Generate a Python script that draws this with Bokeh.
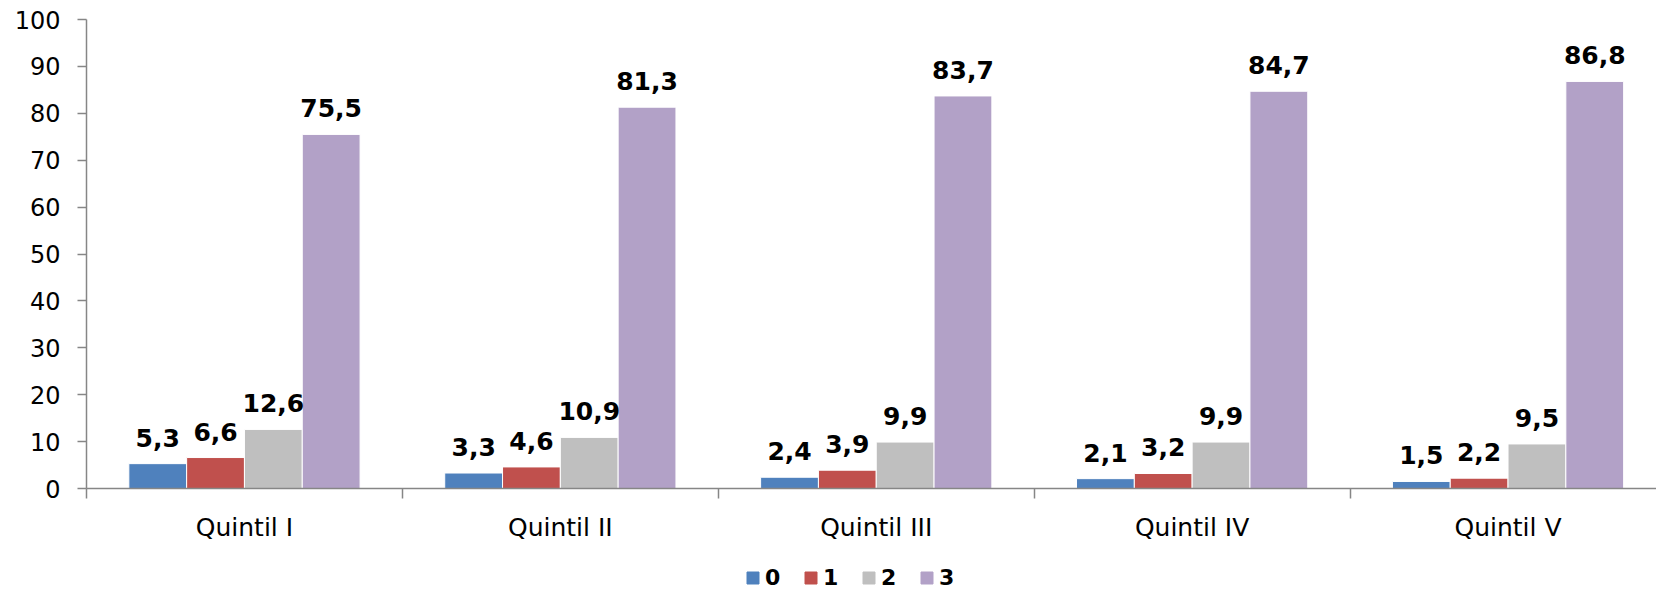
from bokeh.plotting import figure
from bokeh.layouts import column
from bokeh.models import (ColumnDataSource, Range1d, FixedTicker, Legend, LegendItem, LabelSet)
from bokeh.core.properties import value
from bokeh.embed import file_html
from bokeh.resources import INLINE

categories = ["Quintil I", "Quintil II", "Quintil III", "Quintil IV", "Quintil V"]
series_names = ["0", "1", "2", "3"]
s0 = [5.3, 3.3, 2.4, 2.1, 1.5]
s1 = [6.6, 4.6, 3.9, 3.2, 2.2]
s2 = [12.6, 10.9, 9.9, 9.9, 9.5]
s3 = [75.5, 81.3, 83.7, 84.7, 86.8]
series = [s0, s1, s2, s3]
colors = ["#4F81BD", "#C0504D", "#BFBFBF", "#B2A1C7"]
y_ticks = [0, 10, 20, 30, 40, 50, 60, 70, 80, 90, 100]

FONT = "DejaVu Sans"
bar_w = 0.183

p = figure(width=1656, height=558, output_backend="svg", toolbar_location=None,
           x_range=Range1d(0, 4.97), y_range=Range1d(0, 100),
           min_border_left=86, min_border_right=0, min_border_top=19, min_border_bottom=70)
p.outline_line_color = None
p.xgrid.visible = False
p.ygrid.visible = False
p.background_fill_color = "white"
p.border_fill_color = "white"

# small companion figure that only carries the legend (below the chart)
leg = figure(width=1656, height=33, output_backend="svg", toolbar_location=None,
             x_range=Range1d(0, 1), y_range=Range1d(1000, 1001),
             x_axis_location=None, y_axis_location=None,
             min_border_left=0, min_border_right=0, min_border_top=0, min_border_bottom=0)
leg.outline_line_color = None
leg.xgrid.visible = False
leg.ygrid.visible = False

leg_renderers = []
for j, (name, vals, col) in enumerate(zip(series_names, series, colors)):
    xs = [i + 0.5 + (j - 1.5) * bar_w for i in range(len(categories))]
    labels = [f"{v:.1f}".replace(".", ",") for v in vals]
    src = ColumnDataSource(dict(x=xs, top=vals, lab=labels))
    p.vbar(x="x", top="top", bottom=0, width=bar_w, source=src,
           fill_color=col, line_color="white", line_width=1)
    lr = leg.vbar(x="x", top="top", bottom=0, width=bar_w, source=src,
                  fill_color=col, line_color=col, line_width=1)
    leg_renderers.append((name, lr))
    ls = LabelSet(x="x", y="top", text="lab", source=src, text_align="center",
                  text_baseline="alphabetic", y_offset=17,
                  text_font=value(FONT), text_font_style="bold",
                  text_font_size="25px", text_color="black")
    p.add_layout(ls)

# y axis
yax = p.yaxis[0]
yax.ticker = FixedTicker(ticks=y_ticks)
yax.axis_line_color = "#868686"
yax.axis_line_width = 1.5
yax.major_tick_line_color = "#868686"
yax.major_tick_line_width = 1.5
yax.major_tick_out = 9
yax.major_tick_in = 0
yax.minor_tick_line_color = None
yax.major_label_standoff = 17
yax.major_label_text_font = FONT
yax.major_label_text_font_size = "24px"
yax.major_label_text_color = "black"

# x axis
xax = p.xaxis[0]
xax.ticker = FixedTicker(ticks=[i + 0.5 for i in range(len(categories))],
                         minor_ticks=list(range(len(categories) + 1)))
xax.major_label_overrides = {i + 0.5: c for i, c in enumerate(categories)}
xax.axis_line_color = "#868686"
xax.axis_line_width = 1.5
xax.major_tick_line_color = None
xax.major_tick_out = 0
xax.major_tick_in = 0
xax.minor_tick_line_color = "#868686"
xax.minor_tick_line_width = 1.5
xax.minor_tick_out = 10
xax.minor_tick_in = 0
xax.major_label_standoff = 14
xax.major_label_text_font = FONT
xax.major_label_text_font_size = "25px"
xax.major_label_text_color = "black"

items = [LegendItem(label=n, renderers=[r]) for n, r in leg_renderers]
legend = Legend(items=items, orientation="horizontal", location=(659, 1),
                glyph_width=15, glyph_height=15, label_standoff=5, spacing=18,
                padding=0, margin=0, border_line_color=None,
                background_fill_alpha=0,
                label_text_font=FONT, label_text_font_style="bold",
                label_text_font_size="22px", label_text_color="black",
                label_height=15)
leg.add_layout(legend, "center")

layout = column(p, leg, spacing=0)
open("out.html", "w").write(file_html(layout, INLINE))
